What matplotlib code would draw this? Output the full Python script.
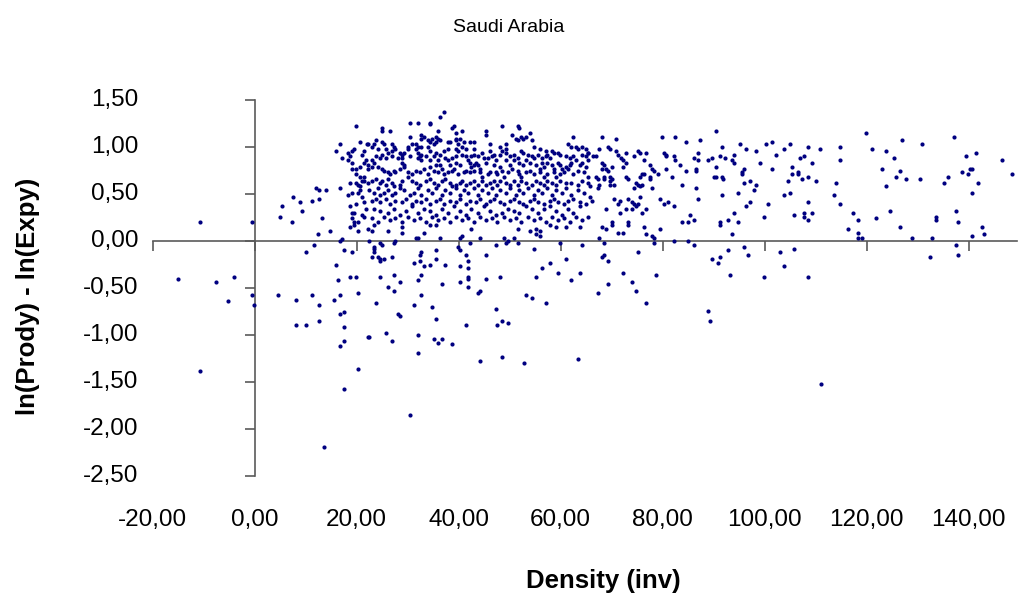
import numpy as np
import matplotlib
matplotlib.use("Agg")
import matplotlib.pyplot as plt

# ---------------------------------------------------------
# Data: (density, ln(Prody) - ln(Expy))
# ---------------------------------------------------------
west_pts = [
    (-10.8, 0.2), (-0.6, 0.2), (19.8, 1.22), (16.7, 1.03), (20.6, 1.05), (15.9, 0.96),
    (18.2, 0.94), (19.0, 0.96), (19.4, 0.98), (21.4, 0.96), (21.0, 0.92), (22.0, 1.03),
    (17.1, 0.88), (18.6, 0.90), (18.2, 0.86), (19.0, 0.83), (21.4, 0.83), (21.8, 0.86),
    (19.0, 0.77), (19.8, 0.77), (20.6, 0.79), (22.2, 0.77), (19.8, 0.71), (20.6, 0.68),
    (21.4, 0.68), (21.4, 0.64), (21.0, 0.64), (18.6, 0.62), (19.8, 0.62), (20.2, 0.60),
    (20.6, 0.58), (16.7, 0.56), (12.0, 0.56), (12.7, 0.54), (13.9, 0.54), (7.6, 0.47),
    (11.2, 0.43), (12.7, 0.45), (8.8, 0.41), (5.3, 0.37), (9.2, 0.32), (4.9, 0.26),
    (7.3, 0.2), (13.1, 0.24), (18.2, 0.49), (19.0, 0.51), (20.2, 0.51), (20.6, 0.54),
    (21.0, 0.47), (18.6, 0.37), (19.8, 0.39), (21.4, 0.41), (21.8, 0.34), (19.0, 0.30),
    (19.4, 0.30), (19.0, 0.24), (21.0, 0.28), (21.4, 0.26), (20.2, 0.2), (19.4, 0.2),
    (-15.1, -0.40), (-7.6, -0.44), (-4.1, -0.38), (-5.3, -0.64), (-0.6, -0.57), (-0.2, -0.68),
    (4.5, -0.57), (8.0, -0.63), (11.2, -0.57), (12.7, -0.68), (15.5, -0.63), (16.7, -0.57),
    (20.2, -0.55), (8.0, -0.89), (10.0, -0.89), (12.7, -0.85), (16.7, -0.78), (17.5, -0.76),
    (17.5, -0.91), (17.5, -1.06), (16.7, -1.12), (22.2, -1.02), (15.9, -0.25), (16.3, -0.42),
    (18.6, -0.38), (19.8, -0.38), (17.5, -0.10), (19.0, -0.12), (10.0, -0.12), (11.6, -0.04),
    (16.7, 0.0), (17.1, 0.02), (12.4, 0.07), (14.7, 0.11), (18.6, 0.15), (19.4, 0.17),
    (20.2, 0.11), (22.2, 0.13), (-10.8, -1.38), (20.2, -1.36), (17.5, -1.57), (30.4, -1.85),
    (13.5, -2.19),
]

# upper part of the dense cloud (density 22-65)
core_upper_pts = [
    (37.1, 1.37), (36.3, 1.32), (30.4, 1.26), (32.0, 1.26), (34.3, 1.26), (34.3, 1.24),
    (24.9, 1.2), (24.9, 1.17), (26.5, 1.17), (35.9, 1.17), (38.6, 1.2), (39.0, 1.22),
    (40.6, 1.17), (39.4, 1.15), (45.3, 1.17), (45.3, 1.13), (48.4, 1.22), (51.6, 1.22),
    (51.9, 1.2), (53.9, 1.15), (50.4, 1.13), (62.5, 1.11),
    (30.4, 1.11), (32.7, 1.13), (32.7, 1.09), (33.1, 1.11), (34.7, 1.09), (35.5, 1.11),
    (35.9, 1.09), (36.3, 1.07), (33.9, 1.07), (34.3, 1.05), (35.5, 1.05), (39.4, 1.09),
    (39.4, 1.07), (40.2, 1.09), (41.0, 1.05), (42.9, 1.05), (42.2, 1.05), (23.7, 1.07),
    (22.2, 1.03), (23.3, 1.03), (24.9, 1.05), (25.3, 1.03), (26.9, 1.03), (30.8, 1.03),
    (31.6, 1.03), (32.0, 1.00), (32.7, 1.00), (33.9, 1.00), (35.1, 1.03), (37.8, 1.05),
    (38.2, 1.05), (39.8, 1.03), (46.1, 1.03), (48.0, 1.00), (49.2, 1.03), (51.2, 1.09),
    (51.6, 1.07), (54.7, 1.00), (55.9, 0.98), (57.1, 0.96), (58.2, 0.96), (59.4, 0.94),
    (61.4, 1.03), (62.1, 1.00), (63.3, 0.98), (62.9, 1.00), (64.1, 1.00), (64.9, 0.98),
    (52.3, 1.11), (53.1, 1.11), (52.7, 1.09), (54.3, 1.07),
    (22.9, 1.00), (24.1, 0.98), (25.7, 0.98), (26.1, 0.94), (26.9, 0.96), (27.3, 1.00),
    (27.6, 0.98), (28.4, 0.94), (29.2, 0.94), (28.8, 0.92), (30.0, 0.98), (30.0, 1.00),
    (31.6, 0.98), (32.0, 0.94), (32.4, 0.90), (32.7, 0.92), (34.3, 0.96), (35.5, 0.94),
    (36.3, 0.92), (37.1, 0.96), (37.8, 0.98), (39.4, 0.98), (39.8, 0.96), (40.6, 1.00),
    (41.4, 0.98), (42.9, 0.98), (40.6, 0.92), (41.4, 0.90), (42.5, 0.90), (42.9, 0.92),
    (43.7, 0.90), (44.5, 0.94), (44.9, 0.88), (46.1, 0.96), (46.9, 0.92), (48.0, 0.92),
    (48.4, 0.96), (49.2, 0.98), (49.2, 0.94), (50.0, 0.90), (50.8, 0.92), (52.3, 0.96),
    (52.7, 0.94), (53.5, 0.92), (54.3, 0.90), (55.5, 0.92), (54.7, 0.88), (56.3, 0.88),
    (57.1, 0.90), (57.4, 0.92), (57.8, 0.88), (58.6, 0.94), (59.8, 0.92), (61.0, 0.90),
    (61.8, 0.88), (62.5, 0.90), (64.1, 0.92), (64.9, 0.90), (65.3, 0.94),
    (22.9, 0.86), (23.3, 0.83), (23.7, 0.90), (24.5, 0.88), (24.9, 0.92), (25.7, 0.88),
    (26.9, 0.90), (28.0, 0.88), (28.8, 0.88), (28.8, 0.83), (29.2, 0.81), (30.4, 0.90),
    (32.0, 0.88), (32.7, 0.86), (33.5, 0.90), (34.3, 0.86), (35.1, 0.90), (35.5, 0.81),
    (35.9, 0.86), (36.3, 0.81), (37.4, 0.88), (37.8, 0.86), (38.2, 0.81), (38.6, 0.88),
    (39.4, 0.90), (39.4, 0.83), (40.2, 0.81), (41.8, 0.86), (42.2, 0.83), (42.5, 0.79),
    (42.9, 0.81), (43.3, 0.83), (43.7, 0.81), (44.1, 0.77), (45.3, 0.83), (45.7, 0.88),
    (46.5, 0.90), (46.9, 0.81), (47.3, 0.86), (48.0, 0.79), (49.2, 0.86), (50.0, 0.81),
    (50.8, 0.86), (51.6, 0.88), (51.9, 0.83), (52.7, 0.81), (53.1, 0.86), (53.9, 0.83),
    (55.1, 0.81), (55.9, 0.77), (56.3, 0.83), (56.7, 0.79), (57.4, 0.83), (58.2, 0.81),
    (58.6, 0.77), (59.4, 0.83), (59.8, 0.81), (60.2, 0.77), (61.0, 0.79), (61.8, 0.81),
    (62.1, 0.83), (62.9, 0.86), (63.7, 0.81), (64.1, 0.83), (64.9, 0.79), (65.3, 0.86),
]

# middle part of the dense cloud
core_middle_pts = [
    (22.2, 0.81), (22.9, 0.79), (24.1, 0.79), (24.9, 0.77), (25.3, 0.75), (26.1, 0.73),
    (26.5, 0.71), (27.3, 0.75), (27.6, 0.73), (28.4, 0.77), (29.2, 0.79), (30.0, 0.73),
    (30.8, 0.71), (31.6, 0.75), (32.4, 0.73), (33.1, 0.77), (33.9, 0.71), (34.3, 0.79),
    (35.1, 0.75), (35.9, 0.73), (36.7, 0.77), (37.1, 0.71), (37.8, 0.73), (38.6, 0.75),
    (39.0, 0.77), (39.8, 0.71), (41.0, 0.73), (41.4, 0.75), (42.2, 0.73), (42.9, 0.75),
    (44.1, 0.73), (44.5, 0.68), (45.7, 0.71), (46.1, 0.73), (47.3, 0.73), (47.6, 0.71),
    (48.4, 0.75), (48.8, 0.68), (49.6, 0.73), (50.4, 0.77), (51.6, 0.75), (51.9, 0.71),
    (52.3, 0.68), (53.1, 0.73), (53.9, 0.75), (54.7, 0.71), (55.9, 0.73), (56.7, 0.68),
    (57.4, 0.71), (58.6, 0.73), (59.0, 0.68), (59.8, 0.71), (60.6, 0.73), (61.4, 0.77),
    (62.5, 0.71), (63.3, 0.75), (64.5, 0.73), (65.3, 0.68),
    (22.2, 0.62), (22.9, 0.64), (23.7, 0.66), (24.5, 0.62), (24.9, 0.64), (25.7, 0.60),
    (26.1, 0.66), (26.9, 0.62), (27.3, 0.58), (28.4, 0.60), (28.8, 0.64), (30.0, 0.68),
    (30.8, 0.64), (31.6, 0.62), (32.4, 0.60), (33.5, 0.64), (34.3, 0.66), (35.1, 0.62),
    (35.9, 0.60), (36.7, 0.64), (37.4, 0.66), (38.2, 0.62), (38.6, 0.58), (39.4, 0.60),
    (40.2, 0.62), (40.6, 0.64), (41.4, 0.60), (42.2, 0.62), (42.9, 0.64), (43.7, 0.60),
    (44.5, 0.64), (45.3, 0.60), (46.1, 0.62), (46.9, 0.64), (47.6, 0.60), (48.0, 0.64),
    (49.2, 0.62), (50.0, 0.60), (50.8, 0.64), (51.6, 0.60), (52.3, 0.64), (53.1, 0.62),
    (54.3, 0.60), (55.1, 0.64), (55.9, 0.62), (56.7, 0.60), (57.4, 0.64), (58.2, 0.62),
    (59.0, 0.60), (59.8, 0.64), (61.0, 0.62), (62.1, 0.62), (63.3, 0.60), (64.1, 0.64),
    (22.5, 0.54), (23.3, 0.51), (24.1, 0.56), (24.5, 0.49), (25.3, 0.51), (26.1, 0.54),
    (26.9, 0.49), (27.6, 0.51), (28.4, 0.56), (29.2, 0.54), (30.4, 0.49), (31.2, 0.51),
    (32.0, 0.56), (32.7, 0.49), (33.9, 0.54), (34.7, 0.51), (35.5, 0.56), (36.7, 0.49),
    (37.4, 0.54), (38.2, 0.51), (39.4, 0.56), (40.2, 0.49), (41.0, 0.54), (41.8, 0.51),
    (42.9, 0.56), (43.7, 0.49), (44.5, 0.54), (45.7, 0.51), (46.5, 0.56), (47.3, 0.49),
    (48.0, 0.54), (49.2, 0.51), (50.0, 0.56), (51.2, 0.49), (51.9, 0.54), (52.7, 0.51),
    (53.5, 0.56), (54.7, 0.49), (55.5, 0.54), (56.3, 0.51), (57.4, 0.56), (58.2, 0.49),
    (59.0, 0.54), (60.2, 0.51), (61.0, 0.56), (62.1, 0.49), (63.3, 0.54), (64.5, 0.51),
]

# lower part of the dense cloud
core_lower_pts = [
    (22.9, 0.43), (23.7, 0.45), (24.5, 0.41), (25.7, 0.45), (26.5, 0.39), (27.6, 0.43),
    (28.8, 0.41), (29.6, 0.45), (30.8, 0.39), (31.6, 0.43), (32.7, 0.41), (33.5, 0.45),
    (34.3, 0.39), (35.5, 0.43), (36.3, 0.45), (37.1, 0.39), (38.2, 0.43), (39.4, 0.41),
    (40.2, 0.45), (41.4, 0.39), (42.2, 0.43), (43.3, 0.41), (44.1, 0.45), (45.3, 0.39),
    (46.1, 0.43), (46.9, 0.45), (48.0, 0.41), (48.8, 0.39), (50.0, 0.43), (50.8, 0.45),
    (51.9, 0.41), (52.7, 0.39), (53.9, 0.43), (54.7, 0.45), (55.5, 0.41), (56.7, 0.39),
    (57.8, 0.43), (58.6, 0.45), (59.4, 0.41), (60.6, 0.39), (61.4, 0.43), (62.5, 0.45),
    (63.7, 0.41), (64.9, 0.39),
    (23.3, 0.34), (24.5, 0.32), (26.1, 0.30), (27.3, 0.34), (28.4, 0.28), (29.6, 0.32),
    (30.8, 0.37), (32.0, 0.30), (33.1, 0.34), (34.3, 0.32), (35.5, 0.28), (36.7, 0.34),
    (37.8, 0.30), (39.0, 0.37), (40.2, 0.32), (41.4, 0.28), (42.5, 0.34), (43.7, 0.30),
    (44.9, 0.37), (46.1, 0.32), (47.3, 0.28), (48.4, 0.30), (49.6, 0.34), (50.8, 0.32),
    (51.9, 0.30), (53.1, 0.37), (54.3, 0.34), (55.5, 0.30), (56.7, 0.34), (57.8, 0.37),
    (59.0, 0.32), (60.2, 0.28), (61.4, 0.34), (62.5, 0.30), (63.7, 0.37),
    (22.9, 0.24), (24.1, 0.2), (25.3, 0.26), (26.5, 0.22), (27.6, 0.24), (28.8, 0.2),
    (30.0, 0.26), (31.2, 0.22), (32.4, 0.24), (33.5, 0.2), (34.7, 0.26), (35.9, 0.22),
    (37.1, 0.24), (38.2, 0.2), (39.4, 0.26), (40.6, 0.22), (41.8, 0.24), (42.9, 0.2),
    (44.1, 0.26), (45.3, 0.22), (46.5, 0.24), (47.6, 0.2), (48.8, 0.26), (50.0, 0.22),
    (51.2, 0.24), (52.3, 0.2), (53.5, 0.26), (54.7, 0.22), (55.9, 0.24), (57.1, 0.2),
    (58.2, 0.26), (59.4, 0.22), (60.6, 0.24), (61.8, 0.2), (62.9, 0.26), (64.1, 0.22),
]

# dense cloud just around and below the axis
core_axis_pts = [
    (22.9, 0.11), (23.3, 0.17), (26.1, 0.11), (28.8, 0.15), (28.8, 0.09), (33.1, 0.09),
    (34.3, 0.17), (35.5, 0.17), (22.5, 0.0), (24.5, -0.02), (24.9, -0.04), (27.3, -0.02),
    (27.6, 0.0), (31.6, 0.03), (32.0, 0.03), (36.3, 0.03), (40.2, 0.03), (40.6, 0.05),
    (42.5, 0.13), (44.1, 0.03), (23.3, -0.06), (23.3, -0.08), (23.3, -0.12), (22.9, -0.17),
    (24.1, -0.17), (24.5, -0.19), (24.5, -0.21), (25.3, -0.19), (26.9, -0.17), (31.2, -0.23),
    (32.4, -0.21), (32.4, -0.15), (32.7, -0.12), (33.1, -0.27), (34.3, -0.25), (35.5, -0.19),
    (35.5, -0.10), (37.4, -0.25), (39.8, -0.06), (40.2, -0.10), (41.4, -0.15), (41.8, -0.21),
    (41.8, -0.29), (41.8, -0.38), (41.8, -0.40), (40.2, -0.27), (40.2, -0.44), (41.8, -0.49),
    (42.2, -0.02), (45.3, -0.15), (45.3, -0.40), (47.3, -0.04), (48.0, -0.38), (48.8, 0.03),
    (49.2, -0.02), (49.6, 0.0), (50.8, 0.03), (51.6, -0.02), (51.6, 0.13), (53.9, 0.11),
    (55.1, 0.13), (55.9, 0.11), (55.1, 0.07), (55.9, 0.05), (57.8, 0.17), (59.0, 0.15),
    (61.0, 0.15), (63.7, 0.15), (54.7, -0.08), (59.8, -0.02), (64.1, -0.04), (61.0, -0.19),
    (56.3, -0.29), (57.8, -0.23), (59.4, -0.34), (55.1, -0.38), (63.7, -0.34), (62.1, -0.42),
    (24.5, -0.38), (27.3, -0.36), (28.4, -0.44), (26.1, -0.49), (27.3, -0.53), (32.0, -0.42),
    (32.7, -0.36), (36.7, -0.46), (32.7, -0.57), (23.7, -0.66), (31.2, -0.68), (34.7, -0.70),
    (43.7, -0.55), (44.1, -0.53), (53.1, -0.57), (54.3, -0.61), (57.1, -0.66), (47.3, -0.72),
    (28.0, -0.78), (28.4, -0.80), (35.5, -0.83), (41.4, -0.89), (47.6, -0.89), (48.4, -0.85),
    (49.6, -0.87), (25.7, -0.98), (22.5, -1.02), (26.9, -1.06), (32.0, -1.00), (35.1, -1.04),
    (35.9, -1.08), (36.7, -1.04), (38.6, -1.10), (32.0, -1.19),
    (44.1, -1.28), (48.4, -1.23), (52.8, -1.30), (63.4, -1.25),
]

mid_pts = [
    (90.4, 1.17), (68.0, 1.11), (70.8, 1.09), (79.8, 1.11), (82.5, 1.11), (84.5, 1.05),
    (87.3, 1.07), (67.6, 0.98), (69.2, 1.00), (69.6, 0.98), (70.8, 0.96), (71.2, 0.92),
    (72.7, 0.94), (75.1, 0.96), (75.5, 0.94), (76.7, 0.94), (80.2, 0.94), (80.6, 0.92),
    (80.6, 0.90), (82.2, 0.90), (82.5, 0.86), (86.1, 0.88), (86.9, 0.94), (86.9, 0.86),
    (88.8, 0.86), (89.6, 0.88), (91.2, 0.90), (91.6, 1.00), (92.3, 0.88), (93.9, 0.92),
    (93.5, 0.86), (93.9, 0.83), (95.1, 1.03), (96.3, 0.98), (98.2, 0.96), (100.2, 1.03),
    (101.4, 1.05), (102.2, 0.92), (103.7, 0.98), (104.9, 1.03), (106.9, 0.88), (107.7, 0.90),
    (108.4, 1.00), (65.4, 0.94), (66.4, 0.90), (66.9, 0.90), (68.0, 0.83), (68.4, 0.81),
    (68.0, 0.77), (68.8, 0.77), (70.0, 0.79), (69.2, 0.75), (71.9, 0.88), (72.3, 0.86),
    (72.7, 0.83), (72.3, 0.79), (74.3, 0.90), (76.3, 0.86), (77.5, 0.81), (77.8, 0.77),
    (78.2, 0.75), (79.0, 0.71), (80.6, 0.77), (83.3, 0.81), (84.5, 0.75), (86.5, 0.77),
    (86.5, 0.75), (90.4, 0.79), (95.9, 0.77), (95.5, 0.73), (95.5, 0.71), (99.0, 0.83),
    (101.4, 0.77), (105.3, 0.79), (105.3, 0.71), (106.5, 0.73), (106.5, 0.71), (107.3, 0.66),
    (108.4, 0.68), (66.9, 0.68), (67.3, 0.66), (68.4, 0.68), (68.4, 0.66), (69.6, 0.68),
    (69.6, 0.64), (70.0, 0.66), (72.7, 0.68), (73.1, 0.66), (75.5, 0.68), (75.9, 0.71),
    (76.3, 0.71), (77.5, 0.68), (77.5, 0.66), (81.8, 0.68), (90.0, 0.68), (90.4, 0.68),
    (91.6, 0.68), (91.9, 0.66), (95.9, 0.62), (97.1, 0.64), (98.2, 0.60), (104.5, 0.64),
    (65.4, 0.62), (65.7, 0.58), (67.6, 0.60), (67.3, 0.56), (69.6, 0.60), (70.4, 0.60),
    (74.7, 0.62), (75.1, 0.60), (75.5, 0.58), (75.9, 0.60), (74.3, 0.56), (77.8, 0.56),
    (83.7, 0.60), (86.5, 0.56), (97.8, 0.54), (94.7, 0.51), (91.6, 0.49), (103.7, 0.49),
    (104.9, 0.51), (65.7, 0.47), (66.1, 0.43), (70.4, 0.45), (71.6, 0.43), (71.2, 0.39),
    (73.1, 0.45), (73.9, 0.41), (74.3, 0.39), (74.7, 0.37), (75.1, 0.39), (75.5, 0.47),
    (79.4, 0.45), (80.2, 0.39), (81.0, 0.41), (82.2, 0.37), (86.9, 0.45), (97.1, 0.41),
    (96.3, 0.37), (100.6, 0.39), (68.8, 0.34), (71.6, 0.30), (72.7, 0.34), (73.9, 0.34),
    (75.9, 0.30), (76.7, 0.34), (85.3, 0.28), (93.9, 0.30), (99.8, 0.26), (105.7, 0.28),
    (107.7, 0.30), (107.7, 0.26), (65.4, 0.26), (70.0, 0.2), (73.1, 0.2), (83.7, 0.2),
    (84.9, 0.2), (86.1, 0.22), (91.2, 0.2), (92.7, 0.22), (94.7, 0.2),
    (68.0, 0.15), (68.8, 0.13), (70.0, 0.17), (71.2, 0.09), (72.3, 0.09), (73.1, 0.17),
    (76.3, 0.15), (76.7, 0.07), (77.8, 0.05), (78.2, 0.03), (78.2, -0.02), (79.4, 0.13),
    (67.6, 0.03), (68.4, -0.02), (82.2, 0.0), (84.9, 0.0), (86.1, -0.04), (91.2, 0.17),
    (93.5, 0.07), (68.0, -0.17), (68.4, -0.15), (69.2, -0.21), (75.1, -0.12), (72.3, -0.34),
    (73.9, -0.44), (74.7, -0.53), (69.2, -0.46), (67.3, -0.55), (76.7, -0.66), (78.6, -0.36),
    (88.8, -0.74), (89.2, -0.85), (89.6, -0.19), (90.8, -0.23), (91.2, -0.17), (92.7, -0.10),
    (93.1, -0.36), (95.9, -0.06), (96.7, -0.15), (99.8, -0.38), (102.9, -0.12), (103.7, -0.27),
    (105.7, -0.08), (108.4, -0.38), (111.0, -1.52),
]

east_pts = [
    (119.8, 1.15), (126.9, 1.07), (130.8, 1.03), (137.1, 1.11), (110.8, 0.98), (114.7, 1.00),
    (121.0, 0.98), (123.7, 0.96), (109.2, 0.83), (114.7, 0.86), (125.3, 0.88), (139.4, 0.90),
    (141.4, 0.94), (146.5, 0.86), (123.0, 0.77), (126.5, 0.75), (125.7, 0.68), (127.6, 0.66),
    (130.4, 0.66), (110.0, 0.64), (113.9, 0.62), (123.7, 0.58), (138.6, 0.73), (140.2, 0.77),
    (140.6, 0.77), (139.8, 0.71), (135.9, 0.68), (135.1, 0.62), (141.8, 0.62), (148.4, 0.71),
    (113.5, 0.49), (140.6, 0.51), (108.5, 0.41), (114.7, 0.39), (109.2, 0.30), (117.4, 0.30),
    (124.5, 0.32), (137.5, 0.32), (118.2, 0.22), (121.8, 0.24), (133.5, 0.26), (133.5, 0.22),
    (137.9, 0.2), (108.5, 0.22),
    (116.3, 0.13), (118.2, 0.09), (118.2, 0.03), (119.0, 0.03), (126.5, 0.15), (128.8, 0.03),
    (132.8, 0.03), (132.4, -0.17), (137.5, -0.04), (137.9, -0.15), (140.6, 0.05), (142.6, 0.15),
    (142.9, 0.07),
]

x_ticks = [-20, 0, 20, 40, 60, 80, 100, 120, 140]
y_ticks = [-2.5, -2.0, -1.5, -1.0, -0.5, 0.0, 0.5, 1.0, 1.5]

pts = np.array(west_pts + core_upper_pts + core_middle_pts + core_lower_pts
               + core_axis_pts + mid_pts + east_pts)

# ---------------------------------------------------------
# Figure
# ---------------------------------------------------------
plt.rcParams["font.family"] = ["Liberation Sans", "DejaVu Sans"]
W, H = 1019, 597
fig = plt.figure(figsize=(W / 100, H / 100), dpi=100)
ax = fig.add_axes([152.7 / W, 1 - 476 / H, 864 / W, 376 / H])

ax.scatter(pts[:, 0], pts[:, 1], s=9, c="#000080", linewidths=0, zorder=3)

ax.set_xlim(-20, 149.4)
ax.set_ylim(-2.5, 1.5)

axis_col = "#5a5a5a"
for side in ("top", "right"):
    ax.spines[side].set_visible(False)
ax.spines["left"].set_position(("data", 0))
ax.spines["bottom"].set_position(("data", 0))
for side in ("left", "bottom"):
    ax.spines[side].set_color(axis_col)
    ax.spines[side].set_linewidth(1.2)

ax.set_xticks(x_ticks)
ax.set_yticks(y_ticks)
ax.tick_params(direction="out", length=7, width=1.2, color=axis_col,
               labelleft=False, labelbottom=False)

def fmt(v):
    return f"{v:.2f}".replace(".", ",")

# tick labels sit at the low edge of the plot (Excel style)
for v in y_ticks:
    ax.text(-0.017, v, fmt(v), transform=ax.get_yaxis_transform(),
            ha="right", va="center", fontsize=17.5)
for v in x_ticks:
    ax.text(v, -0.117, fmt(v), transform=ax.get_xaxis_transform(),
            ha="center", va="center", fontsize=17.5)

fig.text(509 / W, 1 - 28 / H, "Saudi Arabia", ha="center", va="center", fontsize=14)
fig.text(603 / W, 1 - 581 / H, "Density (inv)", ha="center", va="center",
         fontsize=18.5, fontweight="bold")
fig.text(28 / W, 1 - 296 / H, "ln(Prody) - ln(Expy)", ha="center", va="center",
         rotation=90, fontsize=18.5, fontweight="bold")

fig.savefig("out.png", dpi=100)
